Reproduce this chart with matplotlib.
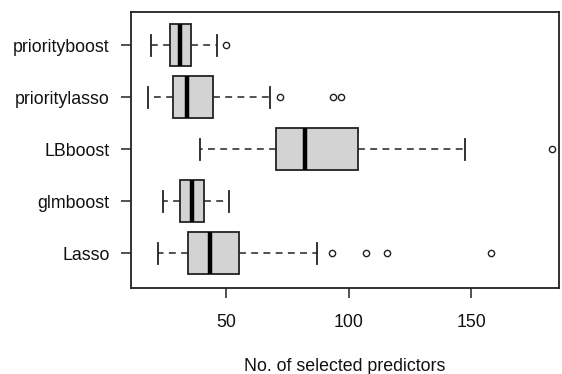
import matplotlib
matplotlib.use("Agg")
import matplotlib.pyplot as plt

labels = ["Lasso", "glmboost", "LBboost", "prioritylasso", "priorityboost"]
whislo = [22.2, 24.0, 39.1, 18.0, 19.1]
q1 = [34.2, 31.1, 70.1, 28.2, 26.9]
med = [43.2, 36.0, 82.2, 34.1, 31.2]
q3 = [55.3, 41.0, 103.9, 44.4, 35.4]
whishi = [87.1, 51.1, 147.7, 67.8, 46.2]
fliers = [[93, 107, 115.7, 158], [], [183], [72, 93.5, 96.7], [49.8]]
xticks = [50, 100, 150]

plt.rcParams['font.family'] = ['Liberation Sans', 'DejaVu Sans']
edge = '#222222'

fig = plt.figure(figsize=(5.62, 3.74), dpi=100)
ax = fig.add_axes([0.233, 0.230, 0.762, 0.738])

stats = []
for i, lab in enumerate(labels):
    stats.append(dict(label=lab, whislo=whislo[i], q1=q1[i], med=med[i],
                      q3=q3[i], whishi=whishi[i], fliers=fliers[i]))

ax.bxp(stats, positions=range(1, len(labels) + 1), vert=False, widths=0.8,
       patch_artist=True, showfliers=True,
       boxprops=dict(facecolor='#d3d3d3', edgecolor=edge, linewidth=1.3),
       medianprops=dict(color='black', linewidth=3.2, solid_capstyle='butt'),
       whiskerprops=dict(color=edge, linewidth=1.1, linestyle=(0, (4.5, 3.5))),
       capprops=dict(color=edge, linewidth=1.3),
       flierprops=dict(marker='o', markerfacecolor='none', markeredgecolor=edge,
                       markersize=4.5, markeredgewidth=1.0),
       capwidths=0.4)

ax.set_xlim(11, 186)
ax.set_ylim(0.33, 5.64)
ax.set_xticks(xticks)
ax.set_xticklabels([str(t) for t in xticks])
ax.tick_params(axis='both', labelsize=12.8, length=7.5, width=1.1, color=edge,
               labelcolor='#111111')
ax.tick_params(axis='x', pad=11)
ax.tick_params(axis='y', pad=8)
for s in ax.spines.values():
    s.set_color(edge)
    s.set_linewidth(1.3)
ax.set_xlabel("No. of selected predictors", fontsize=12.8, labelpad=20, color='#111111')

fig.savefig("out.png", dpi=100)
